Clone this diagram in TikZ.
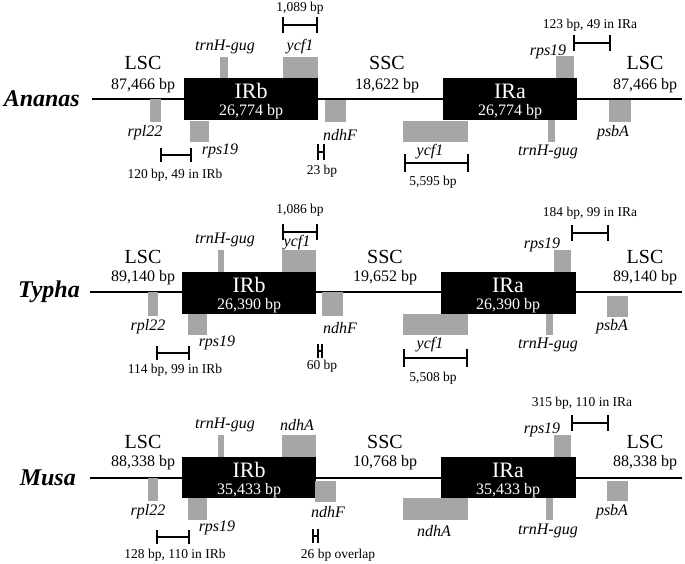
\documentclass[tikz,border=0pt]{standalone}
\usepackage{fontspec}
\setmainfont{Liberation Serif}
\definecolor{genegray}{RGB}{166,166,166}
\newcommand{\sbar}[4]{\draw[barline] (#1,#3-#4) -- (#1,#3+#4) (#1,#3) -- (#2,#3) (#2,#3-#4) -- (#2,#3+#4);}
\begin{document}
\begin{tikzpicture}[x=1pt,y=-1pt,
  backbone/.style={line width=2.8pt},
  irbox/.style={fill=black},
  genebox/.style={fill=genegray},
  barline/.style={line width=1.6pt},
  glab/.style={font=\fontsize{16}{18}\selectfont\itshape, inner sep=0pt},
  reglab/.style={font=\fontsize{20}{22}\selectfont, inner sep=0pt},
  bplab/.style={font=\fontsize{16}{18}\selectfont, inner sep=0pt},
  irlab/.style={text=white, font=\fontsize{22}{24}\selectfont, inner sep=0pt},
  irbp/.style={text=white, font=\fontsize{16}{18}\selectfont, inner sep=0pt},
  sp/.style={font=\fontsize{24}{26}\selectfont\bfseries\itshape, inner sep=0pt, anchor=east},
  small/.style={font=\fontsize{13.5}{15}\selectfont, inner sep=0pt}]
\useasboundingbox (0,0) rectangle (685,564);
\fill[white] (0,0) rectangle (685,564);

% ================= Panel 1: Ananas =================
\coordinate (a0) at (92,99); \coordinate (a1) at (682,99);
\draw[backbone] (a0) -- (a1);
\fill[irbox] (184,78) rectangle (318,120);
\fill[irbox] (443,78) rectangle (577,120);
\node[sp] (asp) at (80,99) {Ananas};
\node[reglab] (alsc1) at (143,63) {LSC};
\node[bplab] (alsc1b) at (143,86) {87,466 bp};
\node[reglab] (assc) at (387,63) {SSC};
\node[bplab] (asscb) at (387,86) {18,622 bp};
\node[reglab] (alsc2) at (645,63) {LSC};
\node[bplab] (alsc2b) at (645,86) {87,466 bp};
\node[irlab] (airb) at (251,91) {IRb};
\node[irbp] (airbb) at (251,112) {26,774 bp};
\node[irlab] (aira) at (510,91) {IRa};
\node[irbp] (airab) at (510,112) {26,774 bp};
% genes
\fill[genebox] (150,99) rectangle (161,122); \node[glab] (arpl) at (145,133) {rpl22};
\fill[genebox] (190,121) rectangle (209,142); \node[glab] (arps) at (220,151) {rps19};
\fill[genebox] (220,57) rectangle (228,78); \node[glab] (atrn) at (225,47) {trnH-gug};
\fill[genebox] (283,57) rectangle (318,78); \node[glab] (aycf) at (300,47) {ycf1};
\sbar{283}{317}{25}{8} \node[small] (a1089) at (300,8) {1,089 bp};
\fill[genebox] (325,100) rectangle (346,122); \node[glab] (andhf) at (340,135) {ndhF};
\sbar{318}{324}{152}{8} \node[small] (a23) at (322,171) {23 bp};
\sbar{161}{191}{155}{7} \node[small] (a120) at (175,175) {120 bp, 49 in IRb};
\fill[genebox] (403,121) rectangle (468,142); \node[glab] (aycf2) at (430,152) {ycf1};
\sbar{405}{468}{163}{9} \node[small] (a5595) at (433,182) {5,595 bp};
\fill[genebox] (556,56) rectangle (574,78); \node[glab] (arps2) at (548,52) {rps19};
\sbar{574}{610}{43}{8} \node[small] (a123) at (590,25) {123 bp, 49 in IRa};
\fill[genebox] (548,120) rectangle (555,142); \node[glab] (atrn2) at (548,152) {trnH-gug};
\fill[genebox] (609,100) rectangle (631,122); \node[glab] (apsb) at (613,133) {psbA};

% ================= Panel 2: Typha =================
\coordinate (t0) at (90,292); \coordinate (t1) at (682,292);
\draw[backbone] (t0) -- (t1);
\fill[irbox] (182,272) rectangle (316,314);
\fill[irbox] (441,272) rectangle (576,314);
\node[sp] (tsp) at (80,292) {Typha};
\node[reglab] (tlsc1) at (143,257) {LSC};
\node[bplab] (tlsc1b) at (143,278) {89,140 bp};
\node[reglab] (tssc) at (385,257) {SSC};
\node[bplab] (tsscb) at (385,278) {19,652 bp};
\node[reglab] (tlsc2) at (645,257) {LSC};
\node[bplab] (tlsc2b) at (645,278) {89,140 bp};
\node[irlab] (tirb) at (249,285) {IRb};
\node[irbp] (tirbb) at (249,306) {26,390 bp};
\node[irlab] (tira) at (508,285) {IRa};
\node[irbp] (tirab) at (508,306) {26,390 bp};
\fill[genebox] (148,292) rectangle (158,316); \node[glab] (trpl) at (148,327) {rpl22};
\fill[genebox] (188,314) rectangle (207,335); \node[glab] (trps) at (217,343) {rps19};
\fill[genebox] (218,250) rectangle (224,272); \node[glab] (ttrn) at (225,240) {trnH-gug};
\fill[genebox] (282,250) rectangle (316,272); \node[glab] (tycf) at (297,243) {ycf1};
\sbar{283}{317}{232}{8} \node[small] (t1086) at (300,210) {1,086 bp};
\fill[genebox] (322,292) rectangle (343,316); \node[glab] (tndhf) at (340,328) {ndhF};
\sbar{318}{322}{351}{7} \node[small] (t60) at (322,366) {60 bp};
\sbar{157}{189}{353}{7} \node[small] (t114) at (175,370) {114 bp, 99 in IRb};
\fill[genebox] (403,314) rectangle (468,335); \node[glab] (tycf2) at (430,345) {ycf1};
\sbar{404}{467}{358}{9} \node[small] (t5508) at (433,378) {5,508 bp};
\fill[genebox] (554,250) rectangle (571,272); \node[glab] (trps2) at (542,245) {rps19};
\sbar{572}{608}{233}{8} \node[small] (t184) at (590,213) {184 bp, 99 in IRa};
\fill[genebox] (546,314) rectangle (553,335); \node[glab] (ttrn2) at (548,345) {trnH-gug};
\fill[genebox] (607,296) rectangle (628,317); \node[glab] (tpsb) at (612,327) {psbA};

% ================= Panel 3: Musa =================
\coordinate (m0) at (90,478); \coordinate (m1) at (682,478);
\draw[backbone] (m0) -- (m1);
\fill[irbox] (182,457) rectangle (316,498);
\fill[irbox] (441,457) rectangle (576,498);
\node[sp] (msp) at (76,478) {Musa};
\node[reglab] (mlsc1) at (143,442) {LSC};
\node[bplab] (mlsc1b) at (143,463) {88,338 bp};
\node[reglab] (mssc) at (385,442) {SSC};
\node[bplab] (msscb) at (385,463) {10,768 bp};
\node[reglab] (mlsc2) at (645,442) {LSC};
\node[bplab] (mlsc2b) at (645,463) {88,338 bp};
\node[irlab] (mirb) at (249,470) {IRb};
\node[irbp] (mirbb) at (249,491) {35,433 bp};
\node[irlab] (mira) at (508,470) {IRa};
\node[irbp] (mirab) at (508,491) {35,433 bp};
\fill[genebox] (148,478) rectangle (158,501); \node[glab] (mrpl) at (148,512) {rpl22};
\fill[genebox] (188,498) rectangle (207,520); \node[glab] (mrps) at (217,528) {rps19};
\fill[genebox] (218,435) rectangle (224,457); \node[glab] (mtrn) at (225,425) {trnH-gug};
\fill[genebox] (282,435) rectangle (316,457); \node[glab] (mndha) at (297,425) {ndhA};
\fill[genebox] (315,481) rectangle (336,502); \node[glab] (mndhf) at (328,512) {ndhF};
\sbar{313}{318}{536}{7} \node[small] (m26) at (338,555) {26 bp overlap};
\sbar{157}{189}{537}{7} \node[small] (m128) at (175,555) {128 bp, 110 in IRb};
\fill[genebox] (403,498) rectangle (468,520); \node[glab] (mndha2) at (434,531) {ndhA};
\fill[genebox] (554,435) rectangle (571,457); \node[glab] (mrps2) at (542,430) {rps19};
\sbar{572}{608}{423}{8} \node[small] (m315) at (582,403) {315 bp, 110 in IRa};
\fill[genebox] (546,498) rectangle (553,520); \node[glab] (mtrn2) at (548,531) {trnH-gug};
\fill[genebox] (607,481) rectangle (628,501); \node[glab] (mpsb) at (612,512) {psbA};
\end{tikzpicture}
\end{document}
